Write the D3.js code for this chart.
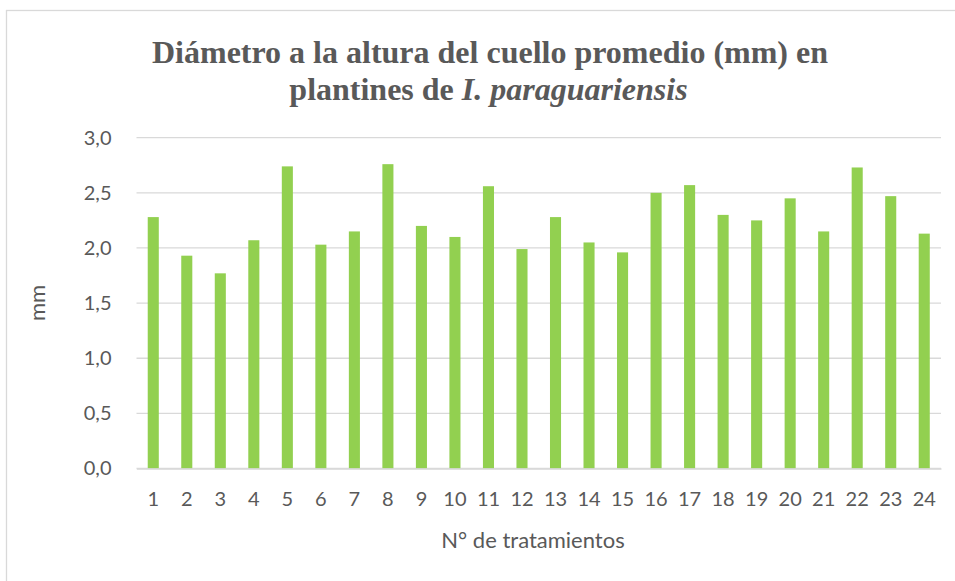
<!DOCTYPE html>
<html><head><meta charset="utf-8">
<script src="https://cdn.jsdelivr.net/npm/d3@7"></script>
<style>body{margin:0;background:#fff}svg{display:block}</style>
</head><body>
<svg id="c" width="955" height="581"></svg>
<script>
const categories = ["1","2","3","4","5","6","7","8","9","10","11","12","13","14","15","16","17","18","19","20","21","22","23","24"];
const values = [2.28,1.93,1.77,2.07,2.74,2.03,2.15,2.76,2.20,2.10,2.56,1.99,2.28,2.05,1.96,2.50,2.57,2.30,2.25,2.45,2.15,2.73,2.47,2.13];
const yTicks = [0,0.5,1.0,1.5,2.0,2.5,3.0];

const svg = d3.select("#c");
const m = {left:136.5, right:941, top:137.7, bottom:468.5};
const x = d3.scaleBand().domain(categories).range([m.left, m.right]).paddingInner(0.67).paddingOuter(0.335);
const y = d3.scaleLinear().domain([0,3]).range([m.bottom, m.top]);
const fmt = d => d3.format(".1f")(d).replace(".", ",");

svg.append("rect").attr("x",6.5).attr("y",10.5).attr("width",1000).attr("height",700)
  .attr("fill","#fff").attr("stroke","#d9d9d9").attr("stroke-width",1.3);

svg.append("g").selectAll("line").data(yTicks).join("line")
  .attr("x1",m.left).attr("x2",m.right).attr("y1",d=>y(d)).attr("y2",d=>y(d))
  .attr("stroke","#d9d9d9").attr("stroke-width",1.3);

svg.append("g").selectAll("rect").data(values).join("rect")
  .attr("x",(d,i)=>x(categories[i])).attr("width",x.bandwidth())
  .attr("y",d=>y(d)).attr("height",d=>y(0)-y(d)).attr("fill","#92d050");

const yAxis = svg.append("g").attr("transform",`translate(${m.left},0)`)
  .call(d3.axisLeft(y).tickValues(yTicks).tickFormat(fmt).tickSize(0).tickPadding(25));
yAxis.select(".domain").remove();
yAxis.selectAll("text").attr("font-family","Lato, sans-serif").attr("font-size",20).attr("fill","#595959");

const xAxis = svg.append("g").attr("transform",`translate(0,${m.bottom})`)
  .call(d3.axisBottom(x).tickSize(0).tickPadding(23));
xAxis.select(".domain").attr("stroke","#d9d9d9").attr("stroke-width",1.3);
xAxis.selectAll("text").attr("font-family","Lato, sans-serif").attr("font-size",20).attr("fill","#595959");

svg.append("text").attr("transform","translate(45,303) rotate(-90)").attr("text-anchor","middle")
  .attr("font-family","Lato, sans-serif").attr("font-size",22).attr("fill","#595959").text("mm");
svg.append("text").attr("x",533).attr("y",548).attr("text-anchor","middle")
  .attr("font-family","Lato, sans-serif").attr("font-size",22).attr("fill","#595959").text("N° de tratamientos");

const t = svg.append("g").attr("font-family","'Liberation Serif', serif").attr("font-weight","bold")
  .attr("font-size",32).attr("fill","#595959").attr("text-anchor","middle");
t.append("text").attr("x",490).attr("y",63).text("Diámetro a la altura del cuello promedio (mm) en");
const l2 = t.append("text").attr("x",488.5).attr("y",100);
l2.append("tspan").text("plantines de ");
l2.append("tspan").attr("font-style","italic").text("I. paraguariensis");
</script>
</body></html>
